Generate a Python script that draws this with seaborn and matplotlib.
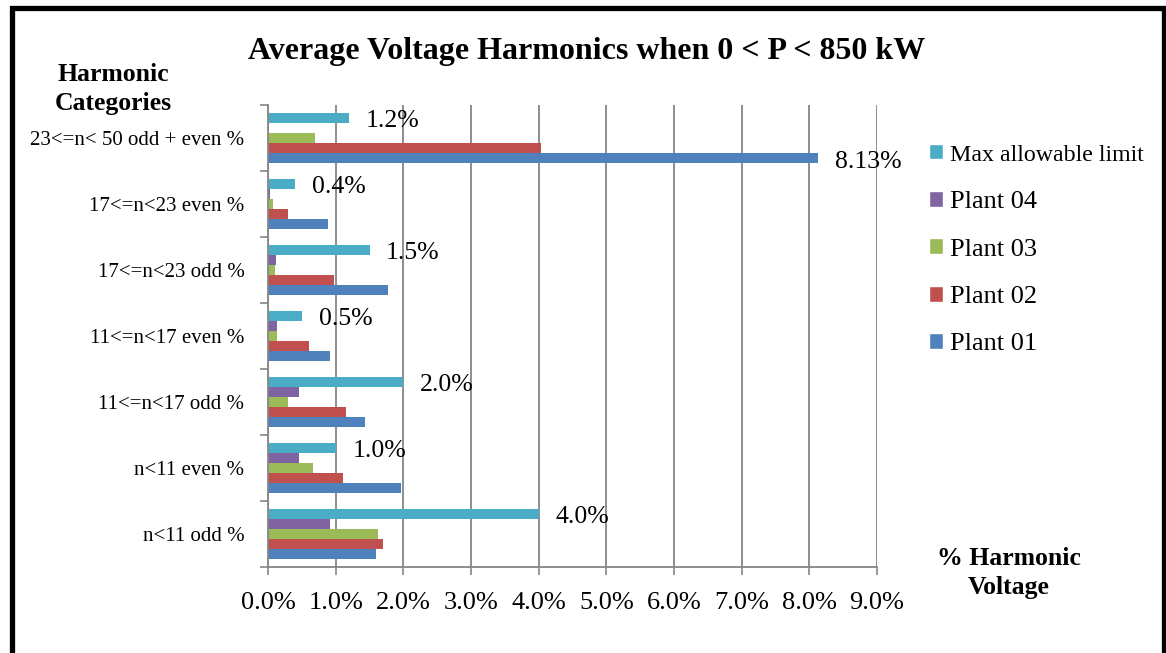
import numpy as np
import pandas as pd
import matplotlib
matplotlib.use("Agg")
import matplotlib.pyplot as plt
from matplotlib.patches import Rectangle
import seaborn as sns

# Harmonic categories, listed top to bottom
categories = [
    "23<=n< 50 odd + even %",
    "17<=n<23 even %",
    "17<=n<23 odd %",
    "11<=n<17 even %",
    "11<=n<17 odd %",
    "n<11 even %",
    "n<11 odd %",
]

# Average harmonic voltage (%) per plant, same order as categories
plant_01 = [8.13, 0.89, 1.78, 0.92, 1.44, 1.97, 1.60]
plant_02 = [4.03, 0.29, 0.98, 0.60, 1.16, 1.11, 1.70]
plant_03 = [0.70, 0.07, 0.10, 0.14, 0.29, 0.67, 1.63]
plant_04 = [0.00, 0.035, 0.12, 0.13, 0.46, 0.46, 0.91]
max_limit = [1.2, 0.4, 1.5, 0.5, 2.0, 1.0, 4.0]

series_names = ["Max allowable limit", "Plant 04", "Plant 03", "Plant 02", "Plant 01"]
series_values = [max_limit, plant_04, plant_03, plant_02, plant_01]
series_colors = ["#4BACC6", "#8064A2", "#9BBB59", "#C0504D", "#4F81BD"]

x_ticks = [0, 1, 2, 3, 4, 5, 6, 7, 8, 9]
x_tick_labels = [f"{t:.1f}%" for t in x_ticks]

df = pd.DataFrame(
    [
        {"Category": c, "Series": name, "Value": v}
        for name, vals in zip(series_names, series_values)
        for c, v in zip(categories, vals)
    ]
)

sns.set_style("white")
plt.rcParams["font.family"] = ["Liberation Serif", "DejaVu Serif"]
plt.rcParams["text.color"] = "black"
plt.rcParams["xtick.labelcolor"] = "black"
plt.rcParams["ytick.labelcolor"] = "black"

W, H = 1166, 653
fig = plt.figure(figsize=(W / 100, H / 100), dpi=100)
ax = fig.add_axes([268 / W, 1 - 567 / H, (877 - 268) / W, (567 - 105) / H])

sns.barplot(
    data=df, x="Value", y="Category", hue="Series",
    order=categories, hue_order=series_names,
    palette=series_colors, orient="h", width=0.77, gap=0,
    saturation=1, ax=ax, legend=True, errorbar=None,
)
for cont in ax.containers:
    for bar in cont:
        bar.set_edgecolor("none")

ax.set_xlim(0, 9)
ax.set_ylim(len(categories) - 0.5, -0.5)
ax.set_xticks(x_ticks)
ax.set_xticklabels(x_tick_labels, fontsize=19)
ax.set_xlabel("")
ax.set_ylabel("")
ax.tick_params(axis="x", length=6, width=1.2, color="#868686", pad=12,
               bottom=True, labelcolor="black")
ax.tick_params(axis="y", which="major", length=0, labelsize=15, pad=17,
               labelcolor="black")
ax.set_yticks(np.arange(-0.5, len(categories), 1.0), minor=True)
ax.tick_params(axis="y", which="minor", length=6, width=1.2, color="#868686",
               left=True)
ax.grid(axis="x", color="#868686", linewidth=1.3)
ax.set_axisbelow(True)
for side in ["top", "right"]:
    ax.spines[side].set_visible(False)
for side in ["left", "bottom"]:
    ax.spines[side].set_color("#868686")
    ax.spines[side].set_linewidth(1.3)

# Value labels on the limit bars and on the largest plant reading
max_cont = ax.containers[0]
anns = ax.bar_label(max_cont, labels=[f"{v:.1f}%" for v in max_limit],
                    padding=12, fontsize=18.5, color="black")
p1_cont = ax.containers[4]
p1_labels = ["" for _ in plant_01]
p1_labels[0] = f"{plant_01[0]:.2f}%"
anns += ax.bar_label(p1_cont, labels=p1_labels, padding=12, fontsize=18.5,
                     color="black")
for a in anns:
    a.xyann = (12, -2.5)

# Legend
handles, labels = ax.get_legend_handles_labels()
leg = ax.legend(
    handles, labels, loc="upper left", bbox_to_anchor=(918 / W, 1 - 133 / H),
    bbox_transform=fig.transFigure, frameon=False, fontsize=19,
    handlelength=0.55, handleheight=0.55, handletextpad=0.25, labelspacing=0.95,
    borderaxespad=0, labelcolor="black",
)
leg.get_texts()[0].set_fontsize(17.2)

fig.text(587 / W, 1 - 52 / H, "Average Voltage Harmonics when 0 < P < 850 kW",
         ha="center", va="center", fontsize=23, fontweight="bold",
         color="black")
fig.text(113 / W, 1 - 89 / H, "Harmonic\nCategories", ha="center",
         va="center", fontsize=18.5, fontweight="bold", linespacing=1.3,
         color="black")
fig.text(1009 / W, 1 - 573 / H, "% Harmonic\nVoltage", ha="center",
         va="center", fontsize=18.5, fontweight="bold", linespacing=1.3,
         color="black")

# Outer frame
fig.add_artist(Rectangle((11.5 / W, -0.1), (1163.5 - 11.5) / W,
                         1.1 - 8.5 / H, transform=fig.transFigure,
                         fill=False, edgecolor="black", linewidth=3.8))

fig.savefig("out.png", dpi=100)
